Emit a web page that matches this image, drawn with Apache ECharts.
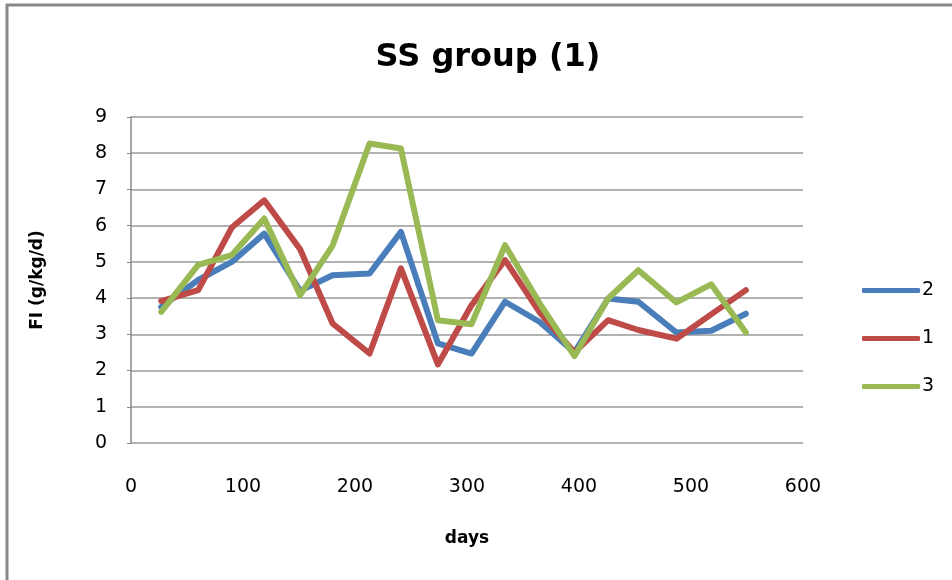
<!DOCTYPE html>
<html><head><meta charset="utf-8">
<script src="https://cdn.jsdelivr.net/npm/echarts@6/dist/echarts.min.js"></script>
<style>html,body{margin:0;padding:0;background:#fff}#c{width:952px;height:580px}</style>
</head><body><div id="c"></div>
<script>
const days = [27, 60, 90, 119, 151, 180, 213, 241, 274, 304, 334, 365, 396, 426, 453, 487, 518, 549];
const s2 = [3.76, 4.5, 5.0, 5.78, 4.2, 4.63, 4.68, 5.83, 2.75, 2.47, 3.9, 3.34, 2.5, 3.99, 3.9, 3.05, 3.1, 3.57];
const s1 = [3.92, 4.22, 5.95, 6.7, 5.35, 3.3, 2.47, 4.82, 2.17, 3.8, 5.05, 3.6, 2.5, 3.39, 3.12, 2.88, 3.55, 4.22];
const s3 = [3.62, 4.92, 5.19, 6.2, 4.08, 5.45, 8.27, 8.13, 3.39, 3.28, 5.46, 3.85, 2.4, 3.99, 4.77, 3.88, 4.38, 3.05];
const seriesNames = ['2', '1', '3'];
const colors = ['#4A7EBB', '#BE4B48', '#98B954'];
const yTicks = [0, 9, 1];
const xTicks = [0, 600, 100];

const font = '"DejaVu Sans", sans-serif';
const pair = arr => days.map((d, i) => [d, arr[i]]);
const chart = echarts.init(document.getElementById('c'));
chart.setOption({
  animation: false,
  backgroundColor: '#fff',
  title: {text: 'SS group (1)', left: 483, top: 37, textAlign: 'center',
    textStyle: {fontFamily: font, fontSize: 32, fontWeight: 'bold', color: '#000'}},
  grid: {left: 131, top: 117, width: 672, height: 326, containLabel: false},
  legend: {orient: 'vertical', left: 857, top: 276, itemGap: 29, itemWidth: 58, itemHeight: 5,
    icon: 'roundRect',
    data: seriesNames,
    textStyle: {fontFamily: font, fontSize: 19, color: '#000', padding: [0, 0, 0, -3]}},
  xAxis: {type: 'value', min: xTicks[0], max: xTicks[1], interval: xTicks[2],
    name: 'days', nameLocation: 'middle', nameGap: 87,
    nameTextStyle: {fontFamily: font, fontSize: 17, fontWeight: 'bold', color: '#000'},
    axisLine: {show: false}, axisTick: {show: false}, splitLine: {show: false},
    axisLabel: {fontFamily: font, fontSize: 19, color: '#000', margin: 35}},
  yAxis: {type: 'value', min: yTicks[0], max: yTicks[1], interval: yTicks[2],
    name: 'FI (g/kg/d)', nameLocation: 'middle', nameGap: 85, nameRotate: 90,
    nameTextStyle: {fontFamily: font, fontSize: 17, fontWeight: 'bold', color: '#000'},
    axisLine: {show: true, lineStyle: {color: '#888', width: 1.5}},
    axisTick: {show: true, length: 4, lineStyle: {color: '#888'}},
    splitLine: {show: true, lineStyle: {color: '#999', width: 1.5}},
    axisLabel: {fontFamily: font, fontSize: 19, color: '#000', margin: 24}},
  series: [s2, s1, s3].map((arr, i) => ({
    name: seriesNames[i], type: 'line', data: pair(arr), showSymbol: false, symbol: 'none',
    lineStyle: {width: 6, color: colors[i], join: 'round', cap: 'round'},
    itemStyle: {color: colors[i]}
  })),
  graphic: [
    {type: 'line', shape: {x1: 6, y1: 5, x2: 952, y2: 5}, style: {stroke: '#888', lineWidth: 3}},
    {type: 'line', shape: {x1: 7, y1: 4, x2: 7, y2: 580}, style: {stroke: '#888', lineWidth: 3}}
  ]
});
</script></body></html>
